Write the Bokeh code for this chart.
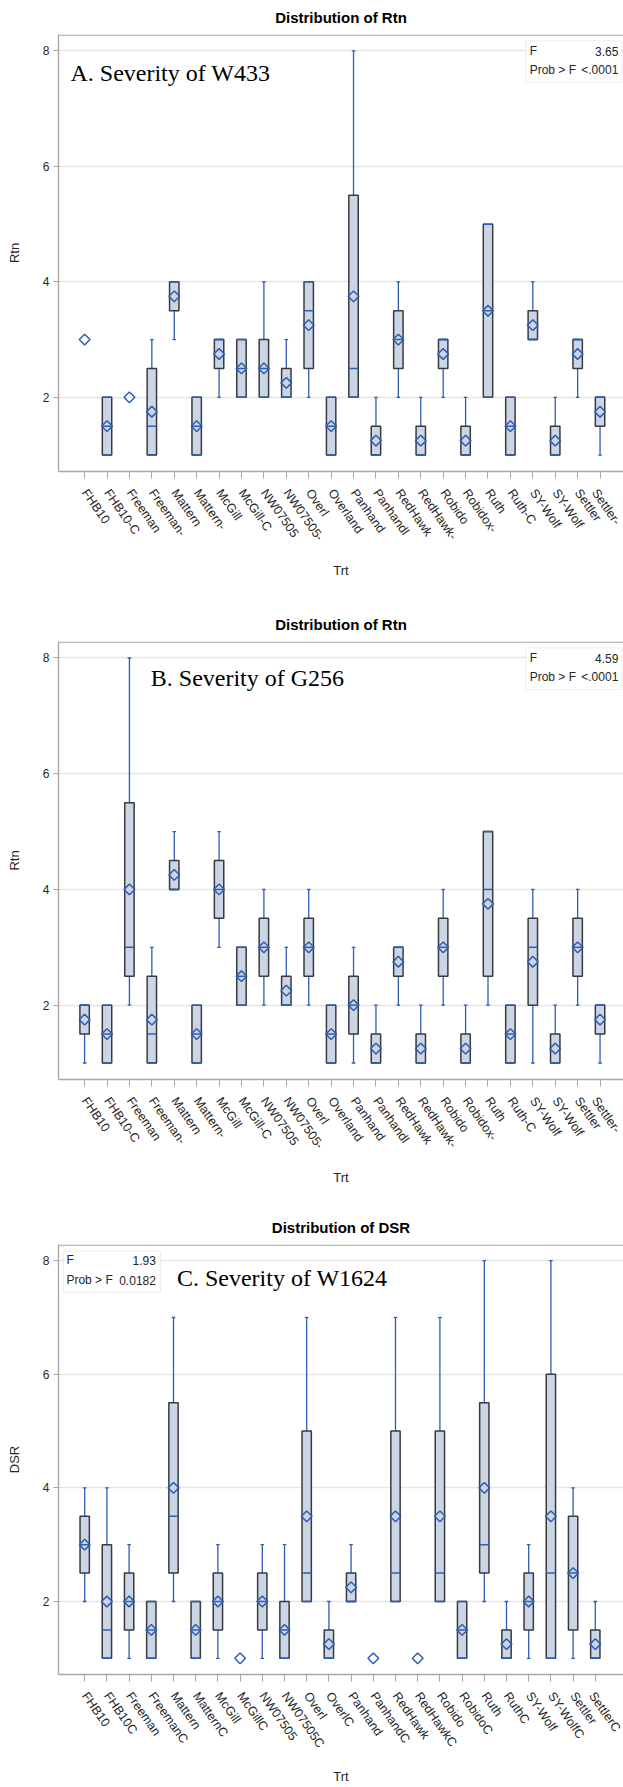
import math
from bokeh.plotting import figure
from bokeh.layouts import column
from bokeh.models import Range1d, FixedTicker, Label, ColumnDataSource, BoxAnnotation, Span
from bokeh.transform import dodge
from bokeh.embed import file_html
from bokeh.resources import INLINE

# ---------------- data ----------------
CATS_AB = ["FHB10", "FHB10-C", "Freeman", "Freeman-", "Mattern", "Mattern-", "McGill", "McGill-C",
           "NW07505", "NW07505-", "Overl", "Overland", "Panhand", "Panhandl", "RedHawk", "RedHawk-",
           "Robido", "Robidox-", "Ruth", "Ruth-C", "SY-Wolf", "SY-Wolf", "Settler", "Settler-"]
CATS_C = ["FHB10", "FHB10C", "Freeman", "FreemanC", "Mattern", "MatternC", "McGill", "McGillC",
          "NW07505", "NW07505C", "Overl", "OverlC", "Panhand", "PanhandC", "RedHawk", "RedHawkC",
          "Robido", "RobidoC", "Ruth", "RuthC", "SY-Wolf", "SY-WolfC", "Settler", "SettlerC"]

# Panel A: Severity of W433
A_LO   = [3, 1, 2, 1, 3, 1, 2, 2, 2, 2, 2, 1, 2, 1, 2, 1, 2, 1, 2, 1, 3, 1, 2, 1]
A_Q1   = [3, 1, 2, 1, 3.5, 1, 2.5, 2, 2, 2, 2.5, 1, 2, 1, 2.5, 1, 2.5, 1, 2, 1, 3, 1, 2.5, 1.5]
A_MED  = [3, 1.5, 2, 1.5, 4, 1.5, 3, 2.5, 2.5, 2, 3.5, 1.5, 2.5, 1, 3, 1, 3, 1, 3.5, 1.5, 3, 1, 3, 2]
A_Q3   = [3, 2, 2, 2.5, 4, 2, 3, 3, 3, 2.5, 4, 2, 5.5, 1.5, 3.5, 1.5, 3, 1.5, 5, 2, 3.5, 1.5, 3, 2]
A_HI   = [3, 2, 2, 3, 4, 2, 3, 3, 4, 3, 4, 2, 8, 2, 4, 2, 3, 2, 5, 2, 4, 2, 3, 2]
A_MEAN = [3, 1.5, 2, 1.75, 3.75, 1.5, 2.75, 2.5, 2.5, 2.25, 3.25, 1.5, 3.75, 1.25, 3, 1.25,
          2.75, 1.25, 3.5, 1.5, 3.25, 1.25, 2.75, 1.75]
A_STATS = [("F", "3.65"), ("Prob > F", "<.0001")]

# Panel B: Severity of G256
B_LO   = [1, 1, 2, 1, 4, 1, 3, 2, 2, 2, 2, 1, 1, 1, 2, 1, 2, 1, 2, 1, 1, 1, 2, 1]
B_Q1   = [1.5, 1, 2.5, 1, 4, 1, 3.5, 2, 2.5, 2, 2.5, 1, 1.5, 1, 2.5, 1, 2.5, 1, 2.5, 1, 2, 1, 2.5, 1.5]
B_MED  = [2, 1.5, 3, 1.5, 4, 1.5, 4, 2.5, 3, 2, 3, 1.5, 2, 1, 3, 1, 3, 1, 4, 1.5, 3, 1, 3, 2]
B_Q3   = [2, 2, 5.5, 2.5, 4.5, 2, 4.5, 3, 3.5, 2.5, 3.5, 2, 2.5, 1.5, 3, 1.5, 3.5, 1.5, 5, 2, 3.5, 1.5, 3.5, 2]
B_HI   = [2, 2, 8, 3, 5, 2, 5, 3, 4, 3, 4, 2, 3, 2, 3, 2, 4, 2, 5, 2, 4, 2, 4, 2]
B_MEAN = [1.75, 1.5, 4, 1.75, 4.25, 1.5, 4, 2.5, 3, 2.25, 3, 1.5, 2, 1.25, 2.75, 1.25,
          3, 1.25, 3.75, 1.5, 2.75, 1.25, 3, 1.75]
B_STATS = [("F", "4.59"), ("Prob > F", "<.0001")]

# Panel C: Severity of W1624
C_LO   = [2, 1, 1, 1, 2, 1, 1, 1, 1, 1, 2, 1, 2, 1, 2, 1, 2, 1, 2, 1, 1, 1, 1, 1]
C_Q1   = [2.5, 1, 1.5, 1, 2.5, 1, 1.5, 1, 1.5, 1, 2, 1, 2, 1, 2, 1, 2, 1, 2.5, 1, 1.5, 1, 1.5, 1]
C_MED  = [3, 1.5, 2, 1.5, 3.5, 1.5, 2, 1, 2, 1.5, 2.5, 1, 2, 1, 2.5, 1, 2.5, 1.5, 3, 1, 2, 2.5, 2.5, 1]
C_Q3   = [3.5, 3, 2.5, 2, 5.5, 2, 2.5, 1, 2.5, 2, 5, 1.5, 2.5, 1, 5, 1, 5, 2, 5.5, 1.5, 2.5, 6, 3.5, 1.5]
C_HI   = [4, 4, 3, 2, 7, 2, 3, 1, 3, 3, 7, 2, 3, 1, 7, 1, 7, 2, 8, 2, 3, 8, 4, 2]
C_MEAN = [3, 2, 2, 1.5, 4, 1.5, 2, 1, 2, 1.5, 3.5, 1.25, 2.25, 1, 3.5, 1, 3.5, 1.5, 4, 1.25,
          2, 3.5, 2.5, 1.25]
C_STATS = [("F", "1.93"), ("Prob > F", "0.0182")]

# ---------------- style ----------------
SANS = "'Liberation Sans', Arial, sans-serif"
SERIF = "'Liberation Serif', 'Times New Roman', serif"
BLUE = "#2f5cb5"
FILL = "#cad5e5"
EDGE = "#3a3a3a"
GRID = "#e6e6e6"
FRAME = "#a6a6a6"
TXT = "#262626"
W = 623
BOX_W = 0.42
CAP_W = 0.16
Y0, Y1 = 0.715, 8.285


def panel(cats, lo, q1, med, q3, hi, mean, title, ylabel, stats, stat_box, tag, tag_px,
          height, mb_top, mb_bottom, mb_left, px_x, first_px, title_standoff, trt_standoff):
    frame_w = W - mb_left
    frame_h = height - mb_top - mb_bottom
    x_start = -first_px / px_x
    x_end = x_start + frame_w / px_x
    px_y = frame_h / (Y1 - Y0)

    def dx(px):
        return x_start + px / px_x

    def dy(px):
        return Y1 - px / px_y

    p = figure(width=W, height=height,
               x_range=Range1d(x_start, x_end), y_range=Range1d(Y0, Y1),
               output_backend="svg", toolbar_location=None,
               min_border_left=mb_left, min_border_right=0,
               min_border_top=mb_top, min_border_bottom=mb_bottom)
    p.outline_line_color = None
    p.background_fill_color = "white"
    p.border_fill_color = "white"

    p.title.text = title
    p.title.align = "center"
    p.title.vertical_align = "middle"
    p.title.text_font = SANS
    p.title.text_font_size = "15px"
    p.title.text_font_style = "bold"
    p.title.text_color = "#000000"
    p.title.standoff = title_standoff

    idx = list(range(len(cats)))
    p.xgrid.visible = False
    p.ygrid.ticker = FixedTicker(ticks=[2, 4, 6, 8])
    p.ygrid.grid_line_color = GRID
    p.ygrid.grid_line_width = 1.3
    # top border of the plot area
    p.add_layout(Span(location=Y1 - 0.6 / px_y, dimension="width", line_color=FRAME, line_width=1.3))

    # y axis
    ya = p.yaxis[0]
    ya.ticker = FixedTicker(ticks=[2, 4, 6, 8])
    ya.axis_label = ylabel
    ya.axis_label_text_font = SANS
    ya.axis_label_text_font_style = "normal"
    ya.axis_label_text_font_size = "13px"
    ya.axis_label_text_color = TXT
    ya.axis_label_standoff = 18
    ya.major_label_text_font = SANS
    ya.major_label_text_font_size = "12px"
    ya.major_label_text_color = TXT
    ya.major_label_standoff = 4
    ya.major_tick_out = 5
    ya.major_tick_in = 0
    ya.minor_tick_out = 0
    ya.minor_tick_in = 0
    ya.axis_line_color = FRAME
    ya.axis_line_width = 1.3
    ya.major_tick_line_color = FRAME

    # x axis
    xa = p.xaxis[0]
    xa.ticker = FixedTicker(ticks=idx)
    xa.major_label_overrides = {i: c for i, c in enumerate(cats)}
    xa.major_label_orientation = -0.96
    xa.major_label_text_font = SANS
    xa.major_label_text_font_size = "12.5px"
    xa.major_label_text_color = TXT
    xa.major_label_standoff = 12
    xa.major_tick_out = 7
    xa.major_tick_in = 0
    xa.minor_tick_out = 0
    xa.minor_tick_in = 0
    xa.axis_line_color = FRAME
    xa.axis_line_width = 1.3
    xa.major_tick_line_color = FRAME
    xa.axis_label = "Trt"
    xa.axis_label_text_font = SANS
    xa.axis_label_text_font_style = "normal"
    xa.axis_label_text_font_size = "13px"
    xa.axis_label_text_color = TXT
    xa.axis_label_standoff = trt_standoff

    # whiskers
    wl = [(i, lo[i], q1[i]) for i in idx if lo[i] < q1[i]]
    wh = [(i, q3[i], hi[i]) for i in idx if hi[i] > q3[i]]
    ws = ColumnDataSource(dict(x=[w[0] for w in wl + wh], y0=[w[1] for w in wl + wh],
                               y1=[w[2] for w in wl + wh]))
    p.segment(x0="x", x1="x", y0="y0", y1="y1", source=ws, line_color=BLUE, line_width=1.3)
    caps = ColumnDataSource(dict(x=[w[0] for w in wl] + [w[0] for w in wh],
                                 y=[w[1] for w in wl] + [w[2] for w in wh]))
    p.segment(x0=dodge("x", -CAP_W / 2, range=p.x_range), x1=dodge("x", CAP_W / 2, range=p.x_range),
              y0="y", y1="y", source=caps, line_color=BLUE, line_width=1.3)

    # boxes
    bi = [i for i in idx if q3[i] > q1[i]]
    bs = ColumnDataSource(dict(x=bi, q1=[q1[i] for i in bi], q3=[q3[i] for i in bi],
                               med=[med[i] for i in bi]))
    p.vbar(x="x", width=BOX_W, bottom="q1", top="q3", source=bs, fill_color=FILL,
           line_color=EDGE, line_width=1.5)
    p.segment(x0=dodge("x", -BOX_W / 2, range=p.x_range), x1=dodge("x", BOX_W / 2, range=p.x_range),
              y0="med", y1="med", source=bs, line_color=BLUE, line_width=1.5)
    # box edges that coincide with a whisker end
    ex = [i for i in bi if lo[i] == q1[i]] + [i for i in bi if hi[i] == q3[i]]
    ey = [q1[i] for i in bi if lo[i] == q1[i]] + [q3[i] for i in bi if hi[i] == q3[i]]
    es = ColumnDataSource(dict(x=ex, y=ey))
    p.segment(x0=dodge("x", -BOX_W / 2, range=p.x_range), x1=dodge("x", BOX_W / 2, range=p.x_range),
              y0="y", y1="y", source=es, line_color=BLUE, line_width=1.5)

    # means
    ms = ColumnDataSource(dict(x=idx, y=mean))
    p.scatter(x="x", y="y", source=ms, marker="square", angle=math.pi / 4, size=7.6,
              fill_alpha=0, line_color=BLUE, line_width=1.5)

    # stats inset: (left, width, top, height, text inset left, text inset right, row1, row2)
    bl, bw, bt, bh, il, ir, r1, r2 = stat_box
    p.add_layout(BoxAnnotation(left=dx(bl), right=dx(bl + bw), top=dy(bt), bottom=dy(bt + bh),
                               fill_color="white", fill_alpha=1, line_color="#cccccc", line_width=1.2))
    for (name, val), r in zip(stats, (r1, r2)):
        yy = dy(r)
        p.add_layout(Label(x=dx(bl + il), y=yy, text=name, text_align="left", text_baseline="middle",
                           text_font=SANS, text_font_size="12px", text_color=TXT))
        p.add_layout(Label(x=dx(bl + bw - ir), y=yy, text=val, text_align="right",
                           text_baseline="middle", text_font=SANS, text_font_size="12px",
                           text_color=TXT))

    # panel tag
    p.add_layout(Label(x=dx(tag_px[0]), y=dy(tag_px[1]), text=tag, text_align="left",
                       text_baseline="middle", text_font=SERIF, text_font_size="24px",
                       text_color="#000000"))
    return p


pa = panel(CATS_AB, A_LO, A_Q1, A_MED, A_Q3, A_HI, A_MEAN, "Distribution of Rtn", "Rtn", A_STATS,
           (468.8, 96.6, 6.4, 41.6, 4, 3.6, 16.7, 35.7), "A. Severity of W433", (12, 38.5),
           607, 34, 136, 56, 22.49, 26.2, 15, 13)
pb = panel(CATS_AB, B_LO, B_Q1, B_MED, B_Q3, B_HI, B_MEAN, "Distribution of Rtn", "Rtn", B_STATS,
           (468.8, 96.6, 6.4, 41.6, 4, 3.6, 16.7, 35.7), "B. Severity of G256", (92.6, 36.6),
           602, 34, 130, 56, 22.49, 26.2, 15, 12)
pc = panel(CATS_C, C_LO, C_Q1, C_MED, C_Q3, C_HI, C_MEAN, "Distribution of DSR", "DSR", C_STATS,
           (4.8, 97.3, 6.7, 41.7, 3.1, 4.7, 15.7, 36), "C. Severity of W1624", (118.4, 34),
           578, 35, 109, 58, 22.2, 26.2, 16, 12)

layout = column(pa, pb, pc, spacing=0)
open("out.html", "w").write(file_html(layout, INLINE))
